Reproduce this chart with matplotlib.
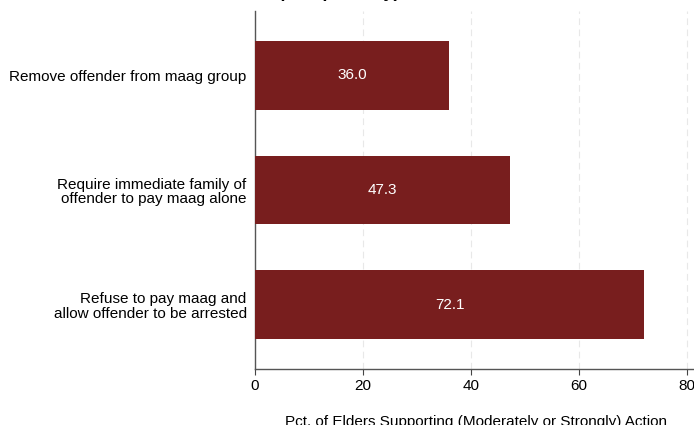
import matplotlib.pyplot as plt

plt.rcParams['font.family'] = ['Liberation Sans', 'DejaVu Sans']

# data
actions = ['Remove offender from maag group',
           'Require immediate family of\noffender to pay maag alone',
           'Refuse to pay maag and\nallow offender to be arrested']
pct = [36.0, 47.3, 72.1]
xticks = [0, 20, 40, 60, 80]

bar_col = '#781e1e'

fig = plt.figure(figsize=(6.94, 4.25), dpi=100)
ax = fig.add_axes([255 / 694, 1 - 369 / 425, 442.8 / 694, 358 / 425])

ypos = list(range(len(actions)))
ax.barh(ypos, pct, height=0.6, color=bar_col, zorder=3)
for y, v in zip(ypos, pct):
    ax.text(v / 2, y, f'{v:.1f}', color='white', ha='center', va='center',
            fontsize=11, zorder=4)

ax.set_ylim(2.557, -0.557)
ax.set_xlim(0, 82)
ax.set_yticks(ypos)
ax.set_yticklabels(actions, fontsize=11, linespacing=1.05)
ax.tick_params(axis='y', length=0, pad=6)
ax.set_xticks(xticks)
ax.tick_params(axis='x', labelsize=11, length=4, color='#444444', pad=3)
ax.grid(axis='x', linestyle=(0, (6, 4)), color='#e8e8e8', linewidth=0.8, zorder=0)
for s in ['top', 'right']:
    ax.spines[s].set_visible(False)
for s in ['left', 'bottom']:
    ax.spines[s].set_color('#555555')
    ax.spines[s].set_linewidth(1.0)
ax.set_xlabel('Pct. of Elders Supporting (Moderately or Strongly) Action',
              fontsize=11, labelpad=16)

# title, mostly above the visible area (only its descenders show)
fig.text(0.49, 1.0 - 1 / 425, '(Sample Only)', ha='center', va='bottom',
         fontsize=13, style='italic', fontweight='bold')

fig.savefig('out.png', dpi=100)
